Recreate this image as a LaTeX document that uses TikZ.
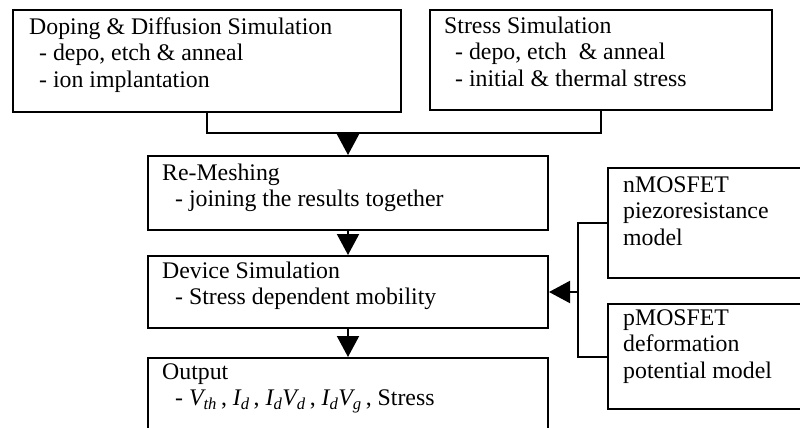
\documentclass[tikz,border=0pt]{standalone}
\usepackage{fontspec}
\setmainfont{Liberation Serif}
\usetikzlibrary{arrows.meta}
% italic quantity with an italic subscript
\newcommand{\qty}[2]{\textit{#1\textsubscript{#2}}}
\begin{document}
\begin{tikzpicture}[x=1pt,y=-1pt,
  box/.style={draw, line width=2pt, inner sep=0pt, anchor=north west},
  txt/.style={anchor=north west, inner sep=0pt, align=left,
    font=\fontsize{23.8}{26.5}\selectfont, execute at begin node=\strut},
  wire/.style={line width=2pt},
  flow/.style={line width=2pt, -{Triangle[length=21pt,width=22pt]}}]
\useasboundingbox (0,0) rectangle (800,428);
\begin{scope}
\clip (0,0) rectangle (800,428);
% process boxes
\node[box, minimum width=388pt, minimum height=102pt] (dop) at (12,9) {};
\node[box, minimum width=342pt, minimum height=100pt] (str) at (429,9) {};
\node[box, minimum width=400pt, minimum height=74pt] (rem) at (147,155) {};
\node[box, minimum width=400pt, minimum height=72pt] (dev) at (147,255) {};
\node[box, minimum width=400pt, minimum height=92pt] (out) at (147,357) {};
% mobility models
\node[box, minimum width=230pt, minimum height=110pt] (nmos) at (607,167) {};
\node[box, minimum width=230pt, minimum height=105pt] (pmos) at (607,303) {};

% box texts
\node[txt] (tdop) at (29,17.5) {Doping \& Diffusion Simulation\\
  \hspace*{10pt}- depo, etch \& anneal\\
  \hspace*{10pt}- ion implantation};
\node[txt] (tstr) at (444,16.5) {Stress Simulation\\
  \hspace*{11pt}- depo, etch \ \& anneal\\
  \hspace*{11pt}- initial \& thermal stress};
\node[txt] (trem) at (162,163.5) {Re-Meshing\\
  \hspace*{13pt}- joining the results together};
\node[txt] (tdev) at (162,261.5) {Device Simulation\\
  \hspace*{13pt}- Stress dependent mobility};
\node[txt] (tout) at (162,363.5) {Output\\
  \hspace*{13pt}- \qty{V}{th}\kern4pt, \qty{I}{d}\kern4pt,
  \qty{I}{d}\qty{V}{d}\kern4pt, \qty{I}{d}\qty{V}{g}\kern4pt, Stress};
\node[txt] (tnmos) at (623,176.5) {nMOSFET\\piezoresistance\\model};
\node[txt] (tpmos) at (623,309.5) {pMOSFET\\deformation\\potential model};

% connectors
\coordinate (join) at (206,133);
\coordinate (bus) at (578,291);
\draw[wire] (dop.south) -- (dop.south |- join) -| (str.south);
\draw[flow] (rem.north |- join) -- (rem.north);
\draw[flow] (rem.south) -- (dev.north);
\draw[flow] (dev.south) -- (out.north);
\draw[wire] (nmos.west) -- (nmos.west -| bus) -- (pmos.west -| bus) -- (pmos.west);
\draw[flow] (bus |- dev.east) -- (dev.east);
\end{scope}
\end{tikzpicture}
\end{document}
